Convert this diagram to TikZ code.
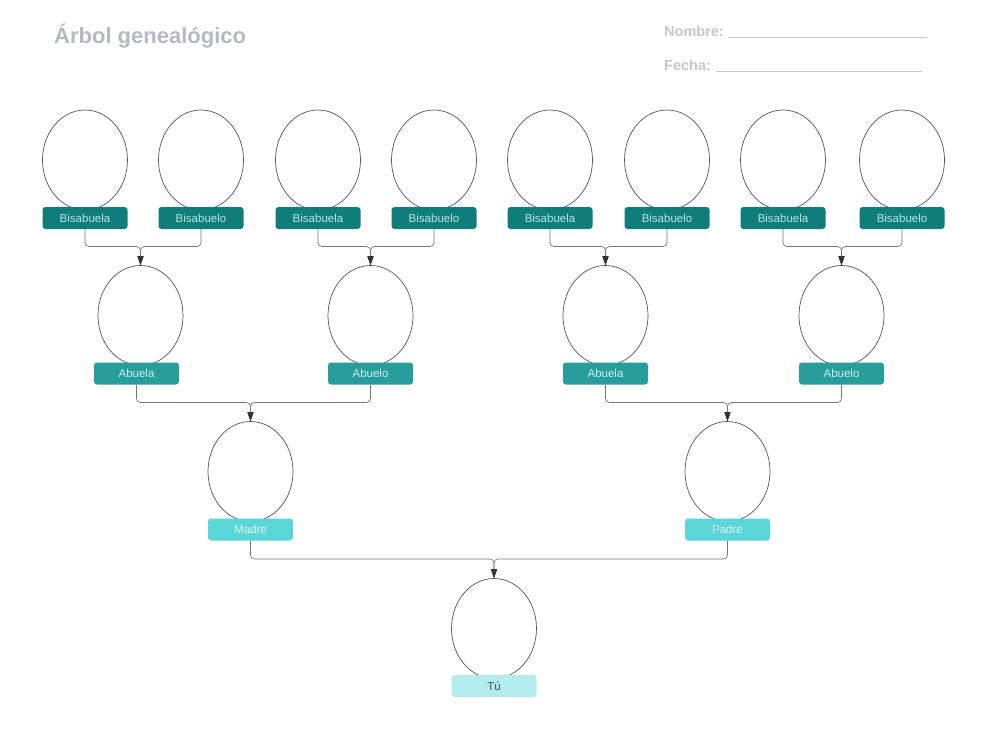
\documentclass[tikz,border=0pt]{standalone}
\usepackage{fontspec}
\setmainfont{Liberation Sans}
\usetikzlibrary{arrows.meta,shapes.geometric}
\definecolor{titlegray}{HTML}{B5B9C2}
\definecolor{fieldgray}{HTML}{C4C8CE}
\definecolor{linegray}{HTML}{777777}
\definecolor{facegray}{HTML}{555555}
\definecolor{lvlA}{HTML}{0F7E7B}
\definecolor{lvlAtext}{HTML}{B8E6E2}
\definecolor{lvlB}{HTML}{279E9B}
\definecolor{lvlBtext}{HTML}{CBEFEC}
\definecolor{lvlC}{HTML}{5AD6D8}
\definecolor{lvlCtext}{HTML}{DDF7F7}
\definecolor{lvlD}{HTML}{B2ECEC}
\definecolor{lvlDtext}{HTML}{4A5858}
\begin{document}
\begin{tikzpicture}[x=1pt,y=-1pt,
  face/.style={ellipse,draw=facegray,line width=0.7pt,minimum width=85pt,minimum height=100pt,inner sep=0pt},
  tag/.style={rectangle,rounded corners=3pt,minimum width=85pt,minimum height=22pt,inner sep=0pt,font=\fontsize{11.5}{12}\selectfont},
  tagA/.style={tag,fill=lvlA,text=lvlAtext},
  tagB/.style={tag,fill=lvlB,text=lvlBtext},
  tagC/.style={tag,fill=lvlC,text=lvlCtext},
  tagD/.style={tag,fill=lvlD,text=lvlDtext},
  link/.style={draw=linegray,line width=0.7pt,rounded corners=4pt,-{Triangle[length=9pt,width=6pt,fill=black!80,color=black!80]}},
  field/.style={font=\bfseries\fontsize{14.5}{15}\selectfont,text=fieldgray,anchor=base west,inner sep=0pt},
  fieldline/.style={draw=fieldgray,line width=1.1pt}
]
\useasboundingbox (0,0) rectangle (986,729);

% header
\node[font=\bfseries\fontsize{22}{24}\selectfont,text=titlegray,anchor=base west,inner sep=0pt] (title) at (54,43) {Árbol genealógico};
\node[field] (nombre) at (664,36) {Nombre:};
\coordinate (n1) at (728,37.5);
\coordinate (n2) at (927,37.5);
\draw[fieldline] (n1) -- (n2);
\node[field] (fecha) at (664,70) {Fecha:};
\coordinate (f1) at (716,71.5);
\coordinate (f2) at (922,71.5);
\draw[fieldline] (f1) -- (f2);

% row 1: great-grandparents
\foreach \nm/\x/\t in {g1/85/Bisabuela,g2/201/Bisabuelo,g3/318/Bisabuela,g4/434/Bisabuelo,g5/550/Bisabuela,g6/667/Bisabuelo,g7/783/Bisabuela,g8/902/Bisabuelo}{
  \node[face] (\nm e) at (\x,160) {};
  \node[tagA] (\nm) at (\x,218) {\t};
}
% row 2: grandparents
\node[face] (p1e) at (140.5,315.5) {};
\node[tagB] (p1) at (136.5,373.5) {Abuela};
\node[face] (p2e) at (370.5,315.5) {};
\node[tagB] (p2) at (370.5,373.5) {Abuelo};
\node[face] (p3e) at (605.5,315.5) {};
\node[tagB] (p3) at (605.5,373.5) {Abuela};
\node[face] (p4e) at (841.5,315.5) {};
\node[tagB] (p4) at (841.5,373.5) {Abuelo};
% row 3: parents
\node[face] (m1e) at (250.5,471.5) {};
\node[tagC] (m1) at (250.5,529.5) {Madre};
\node[face] (m2e) at (727.5,471.5) {};
\node[tagC] (m2) at (727.5,529.5) {Padre};
% row 4: you
\node[face] (ye) at (494,628.5) {};
\node[tagD] (y) at (494,686) {Tú};

% junction points
\coordinate (j1) at (p1e.north |- 0,246.5);
\coordinate (j2) at (p2e.north |- 0,246.5);
\coordinate (j3) at (p3e.north |- 0,246.5);
\coordinate (j4) at (p4e.north |- 0,246.5);
\coordinate (k1) at (m1e.north |- 0,402.5);
\coordinate (k2) at (m2e.north |- 0,402.5);
\coordinate (l1) at (ye.north |- 0,559);

% connectors
\draw[link] (g1.south) |- (j1) -- (p1e.north);
\draw[link] (g2.south) |- (j1) -- (p1e.north);
\draw[link] (g3.south) |- (j2) -- (p2e.north);
\draw[link] (g4.south) |- (j2) -- (p2e.north);
\draw[link] (g5.south) |- (j3) -- (p3e.north);
\draw[link] (g6.south) |- (j3) -- (p3e.north);
\draw[link] (g7.south) |- (j4) -- (p4e.north);
\draw[link] (g8.south) |- (j4) -- (p4e.north);
\draw[link] (p1.south) |- (k1) -- (m1e.north);
\draw[link] (p2.south) |- (k1) -- (m1e.north);
\draw[link] (p3.south) |- (k2) -- (m2e.north);
\draw[link] (p4.south) |- (k2) -- (m2e.north);
\draw[link] (m1.south) |- (l1) -- (ye.north);
\draw[link] (m2.south) |- (l1) -- (ye.north);
\end{tikzpicture}
\end{document}
